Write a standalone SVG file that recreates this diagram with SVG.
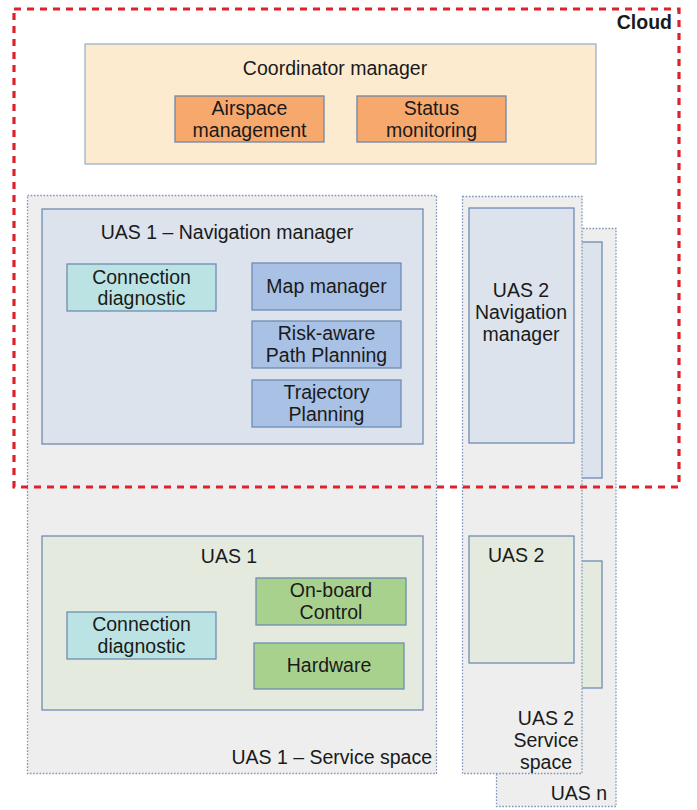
<svg xmlns="http://www.w3.org/2000/svg" width="697" height="810" viewBox="0 0 697 810">
<style>
text{font-family:"Liberation Sans",Arial,sans-serif;font-size:19.5px;fill:#1a1a1a}
.c{text-anchor:middle}
.e{text-anchor:end}
.space{fill:#eeeeee;stroke:#7f97ba;stroke-width:1.3;stroke-dasharray:1.6 1.6}
.nav{fill:#dce3ec;stroke:#6f8db3;stroke-width:1.3}
.uas{fill:#e5eadf;stroke:#6f8db3;stroke-width:1.3}
.coord{fill:#fdebd0;stroke:#9fb1c9;stroke-width:1.3}
.orange{fill:#f7a86d;stroke:#6f87a8;stroke-width:1.3}
.blue{fill:#a9c1e5;stroke:#6f8db3;stroke-width:1.3}
.teal{fill:#bbe3e3;stroke:#6f8db3;stroke-width:1.3}
.green{fill:#a9d18e;stroke:#6f8db3;stroke-width:1.3}
.cloud{fill:none;stroke:#dc232b;stroke-width:3.2;stroke-dasharray:7 6}
</style>
<g id="uasn-space">
<rect class="space" x="496.5" y="228.5" width="119.5" height="578"/>
<rect class="nav" x="503" y="242" width="99" height="236"/>
<rect class="uas" x="503" y="561" width="99" height="127"/>
<text class="e" x="607" y="800">UAS n</text>
</g>
<g id="uas2-space">
<rect class="space" x="462.5" y="196.5" width="119.5" height="577"/>
<g id="uas2-nav">
<rect class="nav" x="469" y="208" width="105" height="235"/>
<text class="c" x="521" y="297">UAS 2</text>
<text class="c" x="521" y="319">Navigation</text>
<text class="c" x="521" y="341">manager</text>
</g>
<g id="uas2">
<rect class="uas" x="469" y="536" width="105" height="127"/>
<text x="488" y="562">UAS 2</text>
</g>
<text class="c" x="546" y="725">UAS 2</text>
<text class="c" x="546" y="747">Service</text>
<text class="c" x="546" y="769">space</text>
</g>
<g id="uas1-space">
<rect class="space" x="27.5" y="195.5" width="409" height="578"/>
<text class="e" x="432" y="764">UAS 1 – Service space</text>
</g>
<g id="uas1-nav">
<rect class="nav" x="42" y="209" width="381" height="235"/>
<text class="c" x="227" y="239">UAS 1 – Navigation manager</text>
</g>
<g id="nav-conn-diag">
<rect class="teal" x="67" y="264" width="149" height="47"/>
<text class="c" x="141.5" y="284">Connection</text>
<text class="c" x="141.5" y="305">diagnostic</text>
</g>
<g id="map-manager">
<rect class="blue" x="252" y="263" width="149" height="47"/>
<text class="c" x="326.5" y="293">Map manager</text>
</g>
<g id="risk-path">
<rect class="blue" x="252" y="321" width="149" height="47"/>
<text class="c" x="326.5" y="340">Risk-aware</text>
<text class="c" x="326.5" y="362">Path Planning</text>
</g>
<g id="trajectory">
<rect class="blue" x="252" y="380" width="149" height="47"/>
<text class="c" x="326.5" y="399">Trajectory</text>
<text class="c" x="326.5" y="421">Planning</text>
</g>
<g id="uas1">
<rect class="uas" x="42" y="536" width="381" height="174"/>
<text class="c" x="229" y="563">UAS 1</text>
</g>
<g id="uas1-conn-diag">
<rect class="teal" x="67" y="612" width="149" height="47"/>
<text class="c" x="141.5" y="631">Connection</text>
<text class="c" x="141.5" y="653">diagnostic</text>
</g>
<g id="onboard">
<rect class="green" x="256" y="578" width="150" height="47"/>
<text class="c" x="331" y="597">On-board</text>
<text class="c" x="331" y="619">Control</text>
</g>
<g id="hardware">
<rect class="green" x="254" y="643" width="150" height="46"/>
<text class="c" x="329" y="672">Hardware</text>
</g>
<g id="coordinator">
<rect class="coord" x="85" y="44" width="511" height="120"/>
<text class="c" x="335" y="75">Coordinator manager</text>
</g>
<g id="airspace">
<rect class="orange" x="175" y="96" width="149" height="46"/>
<text class="c" x="249.5" y="115">Airspace</text>
<text class="c" x="249.5" y="137">management</text>
</g>
<g id="status">
<rect class="orange" x="357" y="96" width="149" height="46"/>
<text class="c" x="431.5" y="115">Status</text>
<text class="c" x="431.5" y="137">monitoring</text>
</g>
<g id="cloud">
<rect class="cloud" x="14" y="9" width="665" height="478"/>
<text class="e" x="672" y="29" style="font-weight:bold">Cloud</text>
</g>
<g id="connectors"/>
</svg>
